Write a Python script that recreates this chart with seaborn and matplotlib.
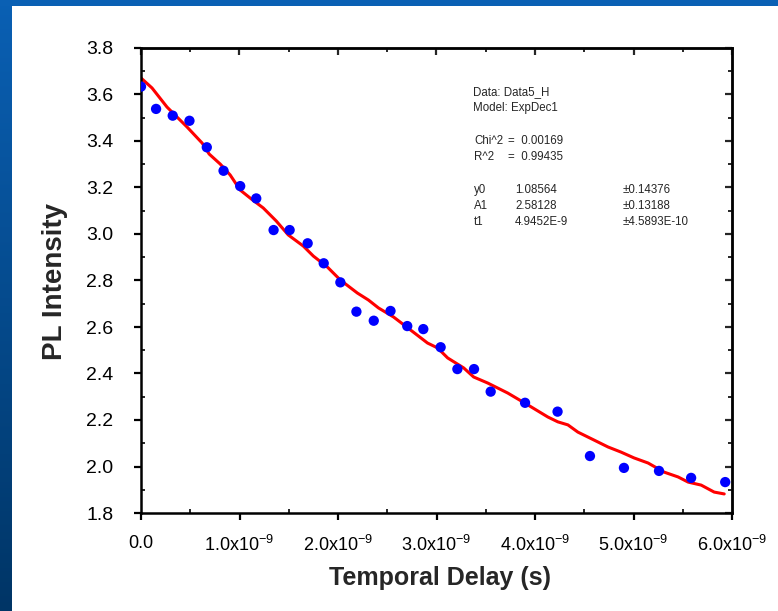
import numpy as np
import pandas as pd
import matplotlib
matplotlib.use("Agg")
import matplotlib.pyplot as plt
import seaborn as sns
from matplotlib.ticker import MultipleLocator, FuncFormatter
from matplotlib.colors import LinearSegmentedColormap

# ---- data ----
delay_pts = [0.0, 0.153, 0.322, 0.492, 0.668, 0.838, 1.007, 1.170, 1.346, 1.509,
             1.692, 1.855, 2.024, 2.187, 2.363, 2.533, 2.703, 2.866, 3.042, 3.212,
             3.381, 3.550, 3.899, 4.229, 4.558, 4.903, 5.259, 5.585, 5.931]  # x1e-9 s
intensity_pts = [3.634, 3.538, 3.509, 3.487, 3.373, 3.272, 3.206, 3.153, 3.017, 3.017,
                 2.960, 2.874, 2.792, 2.666, 2.627, 2.669, 2.604, 2.591, 2.513, 2.419,
                 2.419, 2.322, 2.274, 2.236, 2.045, 1.994, 1.981, 1.951, 1.933]

fit_delay = [0.0, 0.112, 0.264, 0.468, 0.621, 0.692, 0.804, 0.905, 1.007, 1.119,
             1.241, 1.373, 1.495, 1.648, 1.750, 1.892, 2.024, 2.197, 2.309, 2.411,
             2.564, 2.737, 2.909, 3.011, 3.113, 3.276, 3.377, 3.520, 3.723, 3.927,
             4.130, 4.232, 4.334, 4.435, 4.598, 4.741, 4.873, 5.005, 5.148, 5.310,
             5.453, 5.554, 5.687, 5.819, 5.921]
fit_intensity = [3.671, 3.628, 3.546, 3.460, 3.391, 3.344, 3.301, 3.254, 3.189, 3.151,
                 3.112, 3.056, 2.996, 2.948, 2.905, 2.858, 2.802, 2.746, 2.716, 2.682,
                 2.643, 2.587, 2.531, 2.510, 2.467, 2.424, 2.385, 2.359, 2.316, 2.265,
                 2.213, 2.192, 2.179, 2.148, 2.114, 2.084, 2.062, 2.037, 2.015, 1.976,
                 1.955, 1.933, 1.920, 1.890, 1.882]

x_tick_labels = ["0.0", "1.0x10$^{-9}$", "2.0x10$^{-9}$", "3.0x10$^{-9}$",
                 "4.0x10$^{-9}$", "5.0x10$^{-9}$", "6.0x10$^{-9}$"]

header_lines = ["Data: Data5_H", "Model: ExpDec1"]
stats = [("Chi^2", "=  0.00169"), ("R^2", "=  0.99435")]
params = [("y0", "1.08564", "\u00b10.14376"),
          ("A1", "2.58128", "\u00b10.13188"),
          ("t1", "4.9452E-9", "\u00b14.5893E-10")]

scale = 1e-9
pts = pd.DataFrame({"delay": np.array(delay_pts) * scale, "intensity": intensity_pts})
fit = pd.DataFrame({"delay": np.array(fit_delay) * scale, "intensity": fit_intensity})

# ---- style ----
sns.set_style("ticks")
plt.rcParams["font.family"] = ["Liberation Sans", "DejaVu Sans"]
plt.rcParams["mathtext.fontset"] = "custom"
plt.rcParams["mathtext.rm"] = "Liberation Sans"
plt.rcParams["mathtext.it"] = "Liberation Sans:italic"
plt.rcParams["mathtext.bf"] = "Liberation Sans:bold"

W, H = 778, 611
fig = plt.figure(figsize=(W / 100, H / 100), dpi=100)
fig.patch.set_facecolor("white")

# slide-like blue border (left strip and top strip)
bg_left = fig.add_axes([0, 0, 12 / W, 1])
grad = np.linspace(0, 1, 256).reshape(-1, 1)
cmap = LinearSegmentedColormap.from_list("slide", ["#003566", "#0A60B4"])
bg_left.imshow(grad, aspect="auto", cmap=cmap, origin="lower", extent=[0, 1, 0, 1])
bg_left.axis("off")
bg_top = fig.add_axes([0, 1 - 6 / H, 1, 6 / H])
bg_top.set_facecolor("#0A60B4")
bg_top.set_xticks([]); bg_top.set_yticks([])
for s in bg_top.spines.values():
    s.set_visible(False)

L, R, T, B = 141, 732, 48, 513
ax = fig.add_axes([L / W, 1 - B / H, (R - L) / W, (B - T) / H])

sns.lineplot(data=fit, x="delay", y="intensity", ax=ax, color="#FF0000",
             linewidth=2.2, estimator=None, sort=False, zorder=2)
sns.scatterplot(data=pts, x="delay", y="intensity", ax=ax, color="#0000FF",
                s=55, edgecolor="none", zorder=3)

ax.set_xlim(0, 6e-9)
ax.set_ylim(1.8, 3.8)
ax.xaxis.set_minor_locator(MultipleLocator(0.5e-9))
ax.yaxis.set_major_locator(MultipleLocator(0.2))
ax.yaxis.set_minor_locator(MultipleLocator(0.1))
ax.set_xticks([i * 1e-9 for i in range(len(x_tick_labels))])
ax.set_xticklabels(x_tick_labels)
ax.yaxis.set_major_formatter(FuncFormatter(lambda v, p: f"{v:.1f}"))

for s in ax.spines.values():
    s.set_linewidth(1.8)
    s.set_color("black")
ax.tick_params(which="major", direction="out", length=5, width=1.6, colors="black")
ax.tick_params(axis="y", which="major", labelsize=14, pad=15)
ax.tick_params(axis="x", which="major", labelsize=13, pad=11)
ax.tick_params(which="minor", direction="in", length=3, width=1.4)

# top and right ticks pointing inward
sx = ax.secondary_xaxis("top")
sx.xaxis.set_major_locator(MultipleLocator(1e-9))
sx.xaxis.set_minor_locator(MultipleLocator(0.5e-9))
sx.tick_params(which="major", direction="in", length=5, width=1.6, labeltop=False)
sx.tick_params(which="minor", direction="in", length=3, width=1.4)
sy = ax.secondary_yaxis("right")
sy.yaxis.set_major_locator(MultipleLocator(0.2))
sy.yaxis.set_minor_locator(MultipleLocator(0.1))
sy.tick_params(which="major", direction="in", length=5, width=1.6, labelright=False)
sy.tick_params(which="minor", direction="in", length=3, width=1.4)
for sec in (sx, sy):
    for s in sec.spines.values():
        s.set_linewidth(1.8)

def fx(px):
    return (px - L) / (R - L)
def fy(py):
    return (B - py) / (B - T)

ax.set_xlabel("Temporal Delay (s)", fontsize=18, fontweight="bold")
ax.xaxis.label.set_va("center")
ax.xaxis.set_label_coords(fx(440), fy(578))
ax.set_ylabel("PL Intensity", fontsize=20, fontweight="bold")
ax.yaxis.label.set_va("center")
ax.yaxis.set_label_coords(fx(55), fy(282))

# fit info box
fs = 8.3
for i, line in enumerate(header_lines):
    ax.text(fx(473), fy(92 + 16 * i), line, transform=ax.transAxes, fontsize=fs, va="center")
for i, (k, v) in enumerate(stats):
    yy = 141 + 16 * i
    ax.text(fx(474), fy(yy), k, transform=ax.transAxes, fontsize=fs, va="center")
    ax.text(fx(508), fy(yy), v, transform=ax.transAxes, fontsize=fs, va="center")
for i, (k, v, e) in enumerate(params):
    yy = 190 + 16 * i
    ax.text(fx(474), fy(yy), k, transform=ax.transAxes, fontsize=fs, va="center")
    ax.text(fx(515), fy(yy), v, transform=ax.transAxes, fontsize=fs, va="center")
    ax.text(fx(623), fy(yy), e, transform=ax.transAxes, fontsize=fs, va="center")

fig.savefig("out.png", dpi=100, facecolor="white")
